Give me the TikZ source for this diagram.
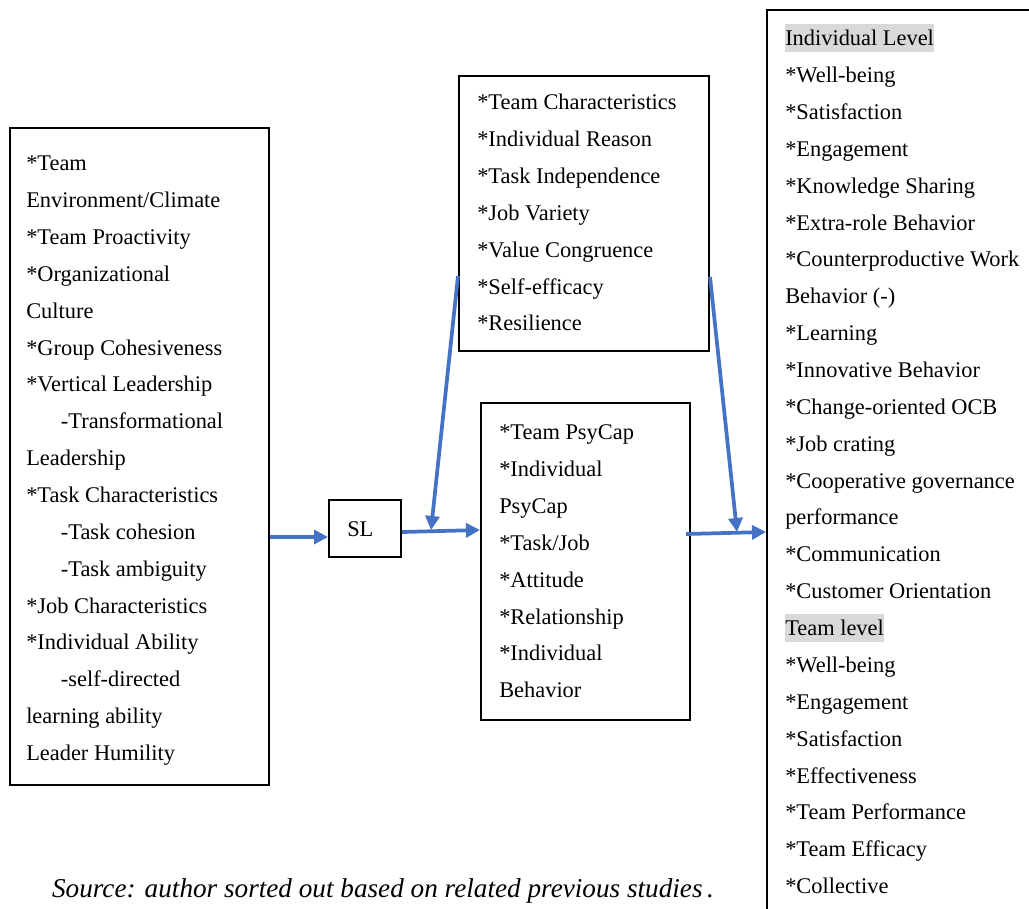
\documentclass[tikz,border=0pt]{standalone}
\usepackage{fontspec}
\setmainfont{Liberation Serif}
\usetikzlibrary{arrows.meta,fit}
\definecolor{arrowblue}{HTML}{4472C4}
\definecolor{hlgray}{HTML}{D9D9D9}
\tikzset{
frame/.style={draw, line width=1.5pt, inner sep=0pt},
itemlist/.style={align=left, inner sep=0pt, anchor=north west,
  font=\fontsize{16.8}{27.65}\selectfont},
link/.style={draw=arrowblue, line width=2.8pt,
  -{Triangle[length=10.5pt, width=10.5pt]}}
}
\newcommand{\hlbox}[1]{{\setlength{\fboxsep}{0pt}\colorbox{hlgray}{\rule[-0.27em]{0pt}{1.25em}#1}}}
\newcommand{\ind}{\hspace*{26pt}}
\newcommand{\topline}{\rule{0pt}{1em}}

\begin{document}
\begin{tikzpicture}[x=0.75pt, y=-0.75pt]
	\useasboundingbox (0,0) rectangle (1029,908);
	\clip (0,0) rectangle (1029,908);
	\node[frame, fit={(10,128) (269,785)}] (env) {};
	\node[frame, fit={(329,500) (401,557)}] (sl) {};
	\node[frame, fit={(459,76) (709,351)}] (moder) {};
	\node[frame, fit={(481,403) (690,720)}] (psycap) {};
	\node[frame, fit={(767,10) (1045,930)}] (outcome) {};
	\node[itemlist] (envtext) at (26,148) {\topline*Team\\ Environment/Climate\\ *Team Proactivity\\
		*Organizational\\ Culture\\ *Group Cohesiveness\\ *Vertical Leadership\\
		\ind-Transformational\\ Leadership\\ *Task Characteristics\\ \ind-Task cohesion\\
		\ind-Task ambiguity\\ *Job Characteristics\\ *Individual Ability\\
		\ind-self-directed\\ learning ability\\ Leader Humility};
	\node[itemlist] (sltext) at (347,514) {\topline SL};
	\node[itemlist] (modertext) at (477,87) {\topline*Team Characteristics\\ *Individual Reason\\
		*Task Independence\\ *Job Variety\\ *Value Congruence\\ *Self-efficacy\\ *Resilience};
	\node[itemlist] (psycaptext) at (499,417) {\topline*Team PsyCap\\ *Individual\\ PsyCap\\
		*Task/Job\\ *Attitude\\ *Relationship\\ *Individual\\ Behavior};
	\node[itemlist] (outcometext) at (785,23) {\topline\hlbox{Individual Level}\\ *Well-being\\
		*Satisfaction\\ *Engagement\\ *Knowledge Sharing\\ *Extra-role Behavior\\
		*Counterproductive Work\\ Behavior (-)\\ *Learning\\ *Innovative Behavior\\
		*Change-oriented OCB\\ *Job crating\\ *Cooperative governance\\ performance\\
		*Communication\\ *Customer Orientation\\ \hlbox{Team level}\\ *Well-being\\
		*Engagement\\ *Satisfaction\\ *Effectiveness\\ *Team Performance\\
		*Team Efficacy\\ *Collective};
	\node[font=\fontsize{20.4}{24}\selectfont\itshape, anchor=base] (source) at (383,897)
		{Source: author sorted out based on related previous studies\,.};
	\coordinate (join1) at (431,530);
	\coordinate (join2) at (737,532);
	\draw[link] (env.east |- 0,537) -- (sl.west |- 0,537);
	\draw[link] (sl.east |- 0,532) -- (psycap.west |- 0,530);
	\draw[link] (moder.west |- 0,276) -- (join1);
	\draw[link] (686,534) -- (outcome.west |- 0,532);
	\draw[link] (moder.east |- 0,277) -- (join2);
\end{tikzpicture}
\end{document}
